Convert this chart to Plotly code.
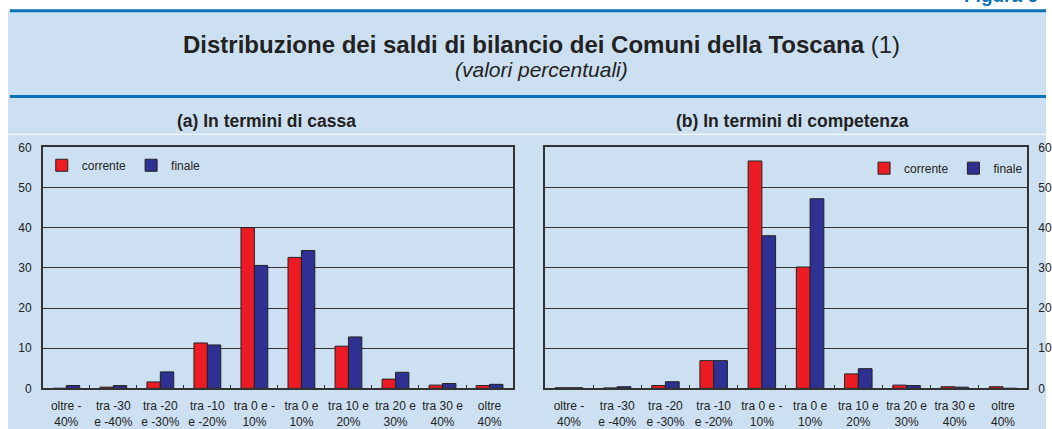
import plotly.graph_objects as go

W, H = 1052, 436

categories = ["oltre -<br>40%", "tra -30<br>e -40%", "tra -20<br>e -30%", "tra -10<br>e -20%",
              "tra 0 e -<br>10%", "tra 0 e<br>10%", "tra 10 e<br>20%", "tra 20 e<br>30%",
              "tra 30 e<br>40%", "oltre<br>40%"]

cassa_corrente = [0.0, 0.3, 1.6, 11.3, 40.0, 32.6, 10.5, 2.3, 0.8, 0.7]
cassa_finale = [0.7, 0.7, 4.1, 10.8, 30.6, 34.3, 12.8, 4.0, 1.2, 1.0]
comp_corrente = [0.15, 0.1, 0.7, 6.9, 56.6, 30.2, 3.6, 0.8, 0.4, 0.4]
comp_finale = [0.15, 0.4, 1.65, 6.9, 38.0, 47.2, 4.9, 0.7, 0.3, 0.0]

yticks = [0, 10, 20, 30, 40, 50, 60]

RED = "#ed1c24"
BLUE = "#2e3192"
BG = "#cde0f1"
LINEBLUE = "#0a72b5"
FONT = "Liberation Sans, Arial, sans-serif"
TXT = "#222222"


def px(x):
    return x / W


def py(y):
    return 1 - y / H


fig = go.Figure()

bar_line = dict(color="#222222", width=1)
fig.add_trace(go.Bar(x=categories, y=cassa_corrente, name="corrente", marker=dict(color=RED, line=bar_line),
                     xaxis="x", yaxis="y", legend="legend"))
fig.add_trace(go.Bar(x=categories, y=cassa_finale, name="finale", marker=dict(color=BLUE, line=bar_line),
                     xaxis="x", yaxis="y", legend="legend"))
fig.add_trace(go.Bar(x=categories, y=comp_corrente, name="corrente", marker=dict(color=RED, line=bar_line),
                     xaxis="x2", yaxis="y2", legend="legend2"))
fig.add_trace(go.Bar(x=categories, y=comp_finale, name="finale", marker=dict(color=BLUE, line=bar_line),
                     xaxis="x2", yaxis="y2", legend="legend2"))

ydom = [py(394), py(145)]
xaxis_common = dict(type="category", showgrid=False, ticks="inside", tickson="boundaries", ticklen=4,
                    tickcolor="#333333", showline=True, linecolor="#333333", linewidth=1.5, mirror=True,
                    tickangle=0, ticklabelstandoff=6,
                    tickfont=dict(size=12, color=TXT, family=FONT), fixedrange=True)
yaxis_common = dict(range=[0, 60], tickvals=yticks, showgrid=True, gridcolor="#333333", gridwidth=1,
                    showline=True, linecolor="#333333", linewidth=1.5, mirror=True, ticks="",
                    ticklabelstandoff=7,
                    tickfont=dict(size=12, color=TXT, family=FONT), zeroline=False, fixedrange=True)

legend_common = dict(orientation="h", bgcolor="rgba(0,0,0,0)", font=dict(size=12, color=TXT, family=FONT),
                     itemwidth=30, xanchor="left", yanchor="middle",
                     itemclick=False, itemdoubleclick=False)

fig.update_layout(
    width=W, height=H,
    margin=dict(l=0, r=0, t=0, b=0),
    paper_bgcolor="white",
    plot_bgcolor="white",
    barmode="group",
    bargap=0.43,
    bargroupgap=0.0,
    xaxis=dict(domain=[px(43), px(516)], anchor="y", **xaxis_common),
    yaxis=dict(domain=ydom, anchor="x", side="left", **yaxis_common),
    xaxis2=dict(domain=[px(548), px(1033)], anchor="y2", **xaxis_common),
    yaxis2=dict(domain=ydom, anchor="x2", side="right", **yaxis_common),
    legend=dict(x=px(42), y=py(163.5), **legend_common),
    legend2=dict(x=px(869), y=py(166.5), **legend_common),
    font=dict(family=FONT, color=TXT),
    shapes=[
        dict(type="rect", xref="paper", yref="paper", x0=px(8), x1=1.0, y0=0, y1=py(4),
             fillcolor=BG, line=dict(width=0), layer="below"),
        dict(type="line", xref="paper", yref="paper", x0=px(10), x1=1.0, y0=py(4), y1=py(4),
             line=dict(color=LINEBLUE, width=3), layer="below"),
        dict(type="line", xref="paper", yref="paper", x0=px(10), x1=1.0, y0=py(92.5), y1=py(92.5),
             line=dict(color=LINEBLUE, width=3), layer="below"),
        dict(type="line", xref="paper", yref="paper", x0=px(8), x1=1.0, y0=py(131.5), y1=py(131.5),
             line=dict(color="white", width=1), layer="below"),
    ],
    annotations=[
        dict(text="<b>Distribuzione dei saldi di bilancio dei Comuni della Toscana</b> (1)",
             xref="paper", yref="paper", x=px(545), y=py(39), xanchor="center", yanchor="middle",
             showarrow=False, font=dict(size=24, color=TXT, family=FONT)),
        dict(text="<i>(valori percentuali)</i>",
             xref="paper", yref="paper", x=px(545), y=py(65), xanchor="center", yanchor="middle",
             showarrow=False, font=dict(size=21, color=TXT, family=FONT)),
        dict(text="<b>(a) In termini di cassa</b>",
             xref="paper", yref="paper", x=px(268), y=py(118), xanchor="center", yanchor="middle",
             showarrow=False, font=dict(size=17.5, color=TXT, family=FONT)),
        dict(text="<b>(b) In termini di competenza</b>",
             xref="paper", yref="paper", x=px(797), y=py(118), xanchor="center", yanchor="middle",
             showarrow=False, font=dict(size=17.5, color=TXT, family=FONT)),
        dict(text="<b>Figura 6</b>",
             xref="paper", yref="paper", x=px(968), y=py(1), xanchor="left", yanchor="bottom",
             showarrow=False, font=dict(size=19, color=LINEBLUE, family=FONT)),
    ],
)

# Remove the default body margin so the figure starts at the window's top-left corner.
fig.write_html("out.html", config={"displayModeBar": False},
               post_script="document.body.style.margin='0';")
